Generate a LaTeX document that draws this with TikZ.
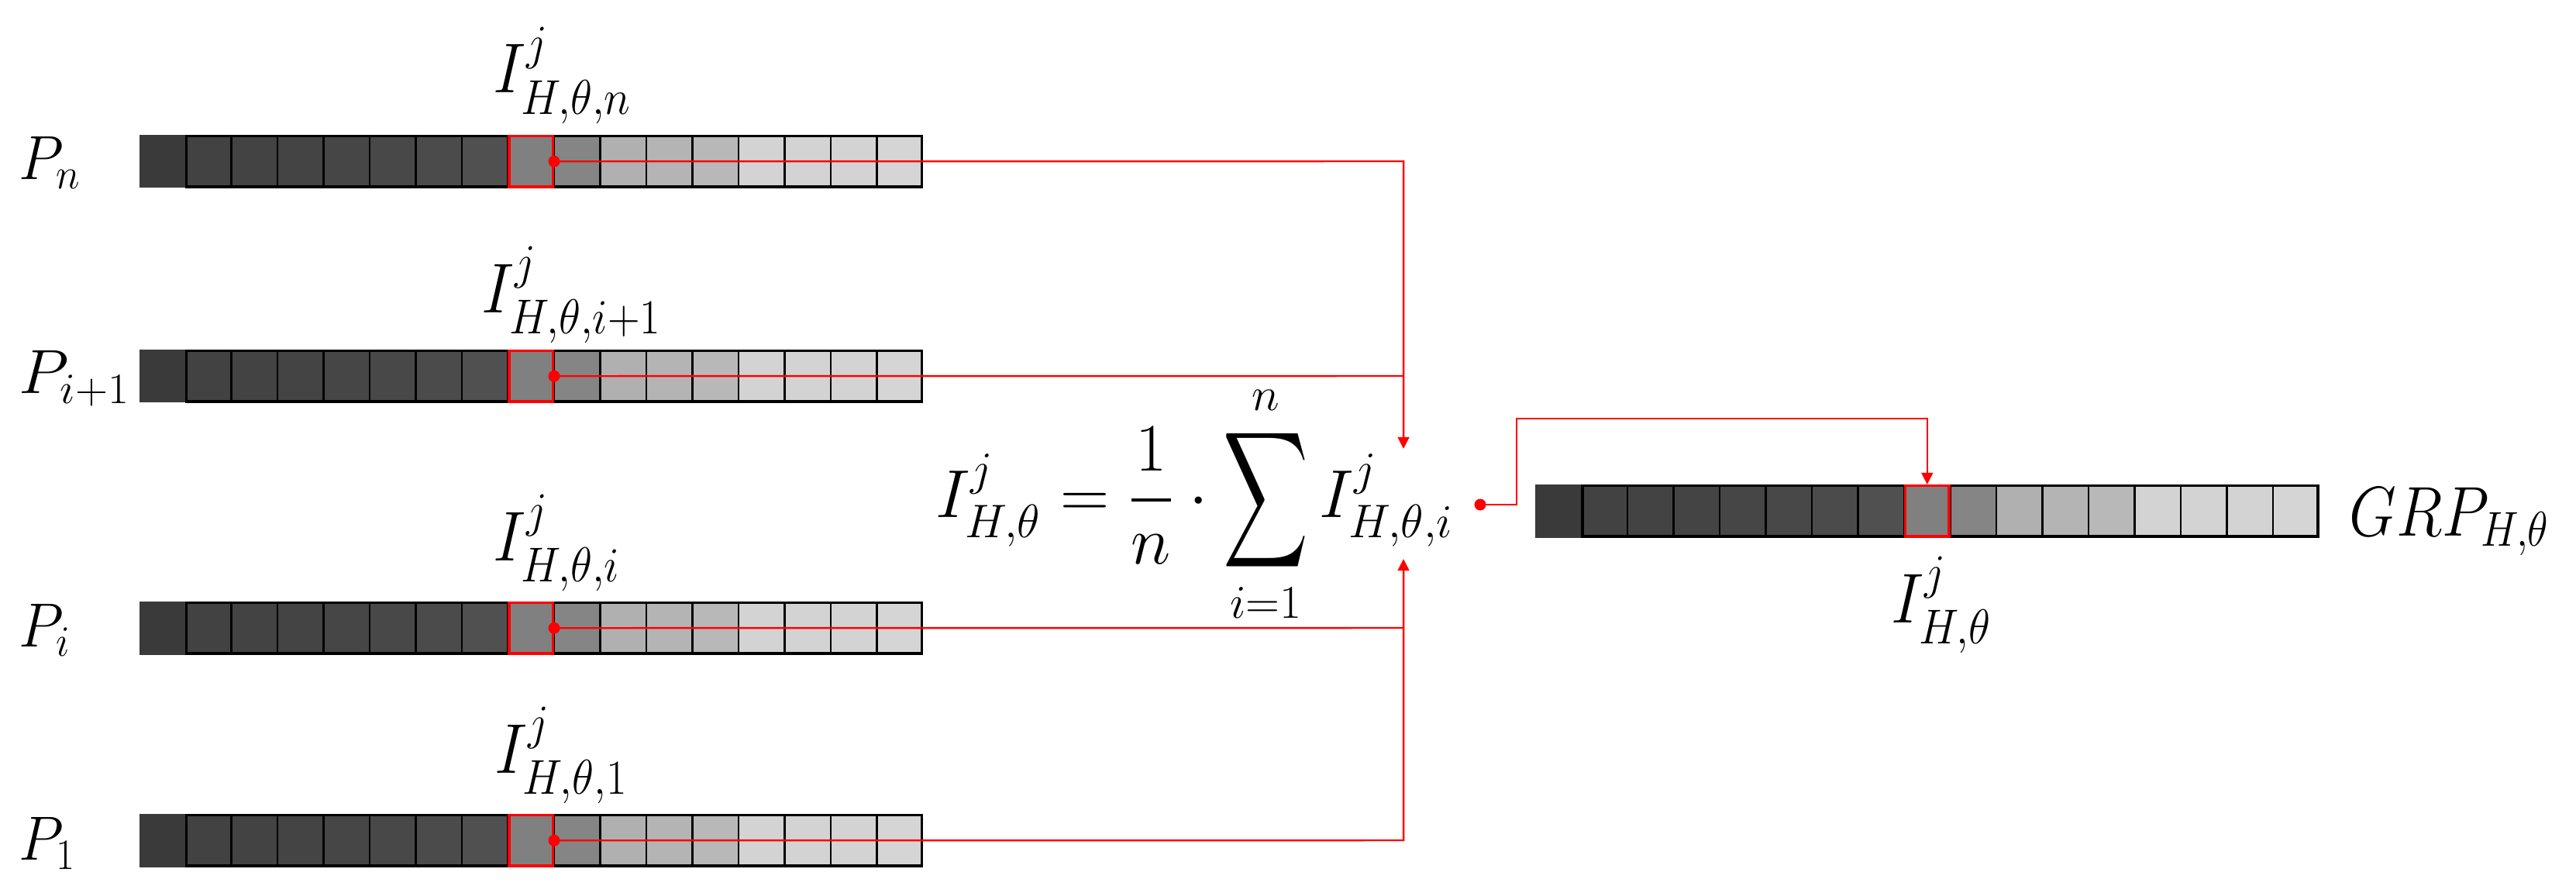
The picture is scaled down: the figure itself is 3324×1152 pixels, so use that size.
\documentclass[tikz,border=0pt]{standalone}
\usepackage{graphicx}
\usepackage{amsmath}
\usetikzlibrary{arrows.meta,calc}
\DeclareMathSizes{24.88}{24.88}{17.28}{12}
\definecolor{c0}{HTML}{3A3A3A}
\definecolor{c1}{HTML}{424242}
\definecolor{c2}{HTML}{434343}
\definecolor{c3}{HTML}{444444}
\definecolor{c4}{HTML}{464646}
\definecolor{c5}{HTML}{484848}
\definecolor{c6}{HTML}{4B4B4B}
\definecolor{c7}{HTML}{505050}
\definecolor{c8}{HTML}{808080}
\definecolor{c9}{HTML}{858585}
\definecolor{c10}{HTML}{B0B0B0}
\definecolor{c11}{HTML}{B4B4B4}
\definecolor{c12}{HTML}{B8B8B8}
\definecolor{c13}{HTML}{D3D3D3}
\definecolor{c14}{HTML}{D3D3D3}
\definecolor{c15}{HTML}{D3D3D3}
\definecolor{c16}{HTML}{D5D5D5}
\definecolor{pred}{HTML}{FF0000}
\newcommand\ilbl[1]{\scalebox{0.95}[1.04]{\fontsize{24.88}{30}\selectfont #1}}
\newcommand\plbl[1]{\scalebox{0.86}[0.92]{\fontsize{24.88}{30}\selectfont #1}}
\newcommand\pwlbl[1]{\scalebox{0.96}[0.92]{\fontsize{24.88}{30}\selectfont #1}}
\newcommand\glbl[1]{\scalebox{0.9}[1.04]{\fontsize{24.88}{30}\selectfont #1}}
\newcommand\flbl[1]{{\fontsize{24.88}{30}\selectfont #1}}
\newcommand\bigsum{\mathop{\vcenter{\hbox{\scalebox{0.87}[1.4]{$\displaystyle\sum$}}}}\limits}
\tikzset{
  cellline/.style={draw=black,line width=0.7pt},
  frameline/.style={draw=black,line width=0.95pt},
  redframe/.style={draw=pred,line width=0.95pt},
  redwire/.style={draw=pred,line width=0.7pt},
  redarrow/.style={redwire,-{Triangle[length=4.3pt,width=4.2pt]}},
  lbl/.style={inner sep=0pt},
  dotmark/.style={fill=pred},
}
% #1 name of the highlighted cell's right-edge midpoint, #2 left x, #3 top y
\newcommand\pixbar[3]{%
  \fill[c0] (#2,#3) rectangle ({#2+59.5},{#3+68.5});
  \foreach \k in {1,...,16} {\fill[c\k] ({#2+\k*59.5},#3) rectangle ({#2+(\k+1)*59.5},{#3+68.5});}
  \foreach \k in {2,...,16} {\draw[cellline] ({#2+\k*59.5},#3) -- ({#2+\k*59.5},{#3+68.5});}
  \draw[frameline] ({#2+59.5+1.6},{#3+1.6}) rectangle ({#2+17*59.5-1.6},{#3+68.5-1.6});
  \draw[redframe] ({#2+8*59.5+1.6},{#3+1.6}) rectangle ({#2+9*59.5-1.6},{#3+68.5-1.6});
  \coordinate (#1) at ({#2+9*59.5},{#3+34.25});
  \coordinate (#1top) at ({#2+8.5*59.5},#3);
}
\begin{document}
\begin{tikzpicture}[x=0.01cm,y=-0.01cm]
\useasboundingbox (0,0) rectangle (3324,1152);
% bars
\pixbar{bn}{179.5}{174}
\pixbar{bip}{179.5}{451}
\pixbar{bi}{179.5}{776}
\pixbar{bone}{179.5}{1050}
\pixbar{grp}{1981}{625}
% row labels
\node[lbl,anchor=base west] (Pn) at (24,231.5) {\plbl{$P_n$}};
\node[lbl,anchor=base west] (Pip) at (24,508) {\pwlbl{$P_{i+1}$}};
\node[lbl,anchor=base west] (Pi) at (24,834) {\plbl{$P_i$}};
\node[lbl,anchor=base west] (Pone) at (24,1109) {\plbl{$P_1$}};
% value labels
\node[lbl,anchor=base west] (In) at (636,120) {\ilbl{$I^j_{H,\theta,n}$}};
\node[lbl,anchor=base west] (Iip) at (621,403) {\ilbl{$I^j_{H,\theta,i+1}$}};
\node[lbl,anchor=base west] (Ii) at (636,723) {\ilbl{$I^j_{H,\theta,i}$}};
\node[lbl,anchor=base west] (Ione) at (638,997) {\ilbl{$I^j_{H,\theta,1}$}};
\node[lbl,anchor=base west] (Igrp) at (2440,803) {\ilbl{$I^j_{H,\theta}$}};
\node[lbl,anchor=base west] (GRP) at (3031,691) {\glbl{$GRP_{H,\theta}$}};
% formula
\node[lbl,anchor=base west] (f) at (1207,667) {\flbl{$\displaystyle I^j_{H,\theta}=\frac{1}{n}\cdot\bigsum_{i=1}^{n} I^j_{H,\theta,i}$}};
% junction coordinates
\coordinate (jtop) at (1811,208);
\coordinate (jip) at (1811,485);
\coordinate (ji) at (1811,810);
\coordinate (jbot) at (1811,1084);
\coordinate (tipA) at (1811,579);
\coordinate (tipB) at (1811,721);
\coordinate (fo) at (1910,651);
\coordinate (k1) at (1957,651);
\coordinate (k2) at (1957,540);
\coordinate (k3) at ($(grptop)+(0,-85)$);
% connectors
\draw[redarrow] (bn) -- (jtop) -- (tipA);
\draw[redwire] (bip) -- (jip);
\draw[redwire] (bi) -- (ji);
\draw[redarrow] (bone) -- (jbot) -- (tipB);
\draw[redarrow] (fo) -- (k1) -- (k2) -- (k3) -- (grptop);
% dots
\foreach \d in {bn,bip,bi,bone,fo} {\fill[dotmark] (\d) circle[radius=7.5];}
\end{tikzpicture}
\end{document}
